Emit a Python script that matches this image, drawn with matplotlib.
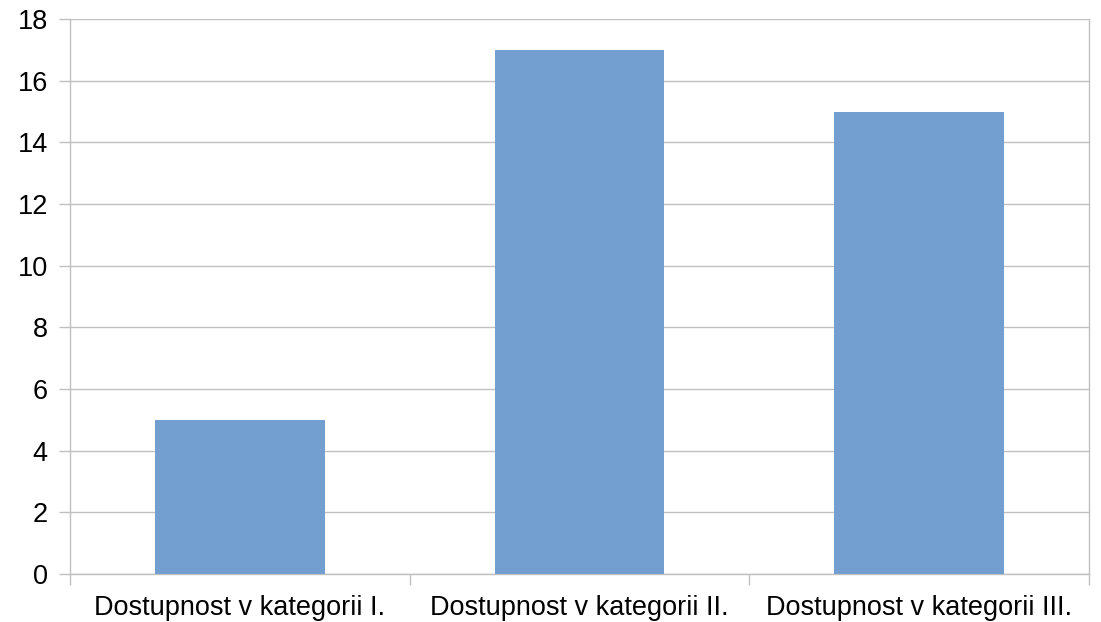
import matplotlib
matplotlib.use("Agg")
import matplotlib.pyplot as plt
from matplotlib.ticker import FixedLocator, NullFormatter

categories = ["Dostupnost v kategorii I.", "Dostupnost v kategorii II.", "Dostupnost v kategorii III."]
values = [5, 17, 15]
yticks = [0, 2, 4, 6, 8, 10, 12, 14, 16, 18]

plt.rcParams['font.family'] = ['Liberation Sans', 'DejaVu Sans']

W, H = 1101, 622
fig = plt.figure(figsize=(W / 100, H / 100), dpi=100)
ax = fig.add_axes([70 / W, 1 - 574 / H, (1089 - 70) / W, (574 - 19) / H])

grid_c = '#c0c0c0'
x = list(range(len(categories)))
ax.bar(x, values, width=0.5, color='#729fcf', zorder=3)

ax.set_xlim(-0.5, len(categories) - 0.5)
ax.set_ylim(0, 18)
ax.set_yticks(yticks)
ax.yaxis.grid(True, color=grid_c, linewidth=1, zorder=0)
ax.set_axisbelow(True)

ax.set_xticks(x)
ax.set_xticklabels(categories, fontsize=19.5)
ax.tick_params(axis='x', which='major', length=0, pad=15)
ax.xaxis.set_minor_locator(FixedLocator([-0.5, 0.5, 1.5, 2.5]))
ax.xaxis.set_minor_formatter(NullFormatter())
ax.tick_params(axis='x', which='minor', length=8, color=grid_c, width=1)
ax.tick_params(axis='y', length=8, color=grid_c, width=1, labelsize=19.5, pad=8)

for s in ['left', 'right', 'bottom', 'top']:
    ax.spines[s].set_color(grid_c)
    ax.spines[s].set_linewidth(1)
ax.spines['top'].set_visible(False)

fig.savefig('out.png', dpi=100, facecolor='white')
